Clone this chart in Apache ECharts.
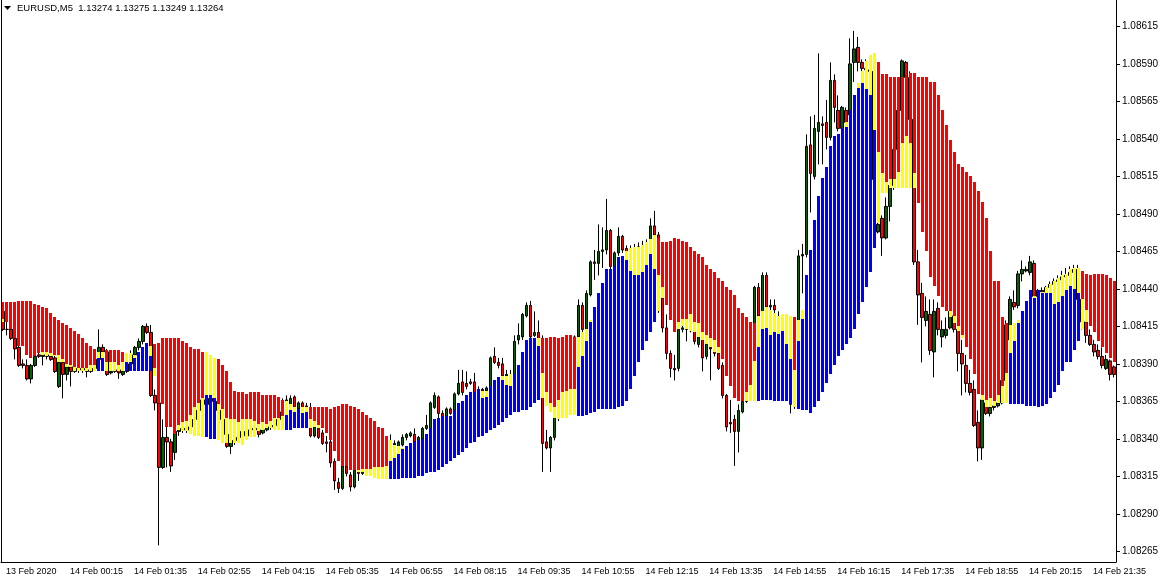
<!DOCTYPE html>
<html><head><meta charset="utf-8">
<script src="https://cdn.jsdelivr.net/npm/echarts@6/dist/echarts.min.js"></script>
<style>html,body{margin:0;padding:0;background:#fff}#c{width:1163px;height:583px}</style>
</head><body><div id="c"></div><script>
const titleText = 'EURUSD,M5  1.13274 1.13275 1.13249 1.13264';
const xLabels = ['13 Feb 2020','14 Feb 00:15','14 Feb 01:35','14 Feb 02:55','14 Feb 04:15','14 Feb 05:35','14 Feb 06:55','14 Feb 08:15','14 Feb 09:35','14 Feb 10:55','14 Feb 12:15','14 Feb 13:35','14 Feb 14:55','14 Feb 16:15','14 Feb 17:35','14 Feb 18:55','14 Feb 20:15','14 Feb 21:35'];
const yTicks = [1.08265,1.0829,1.08315,1.0834,1.08365,1.0839,1.08415,1.0844,1.08465,1.0849,1.08515,1.0854,1.08565,1.0859,1.08615];
// indicator colour per bar: R = red (down), B = blue (up)
const histColor = ('RRRRRRRRRR'+'RRRRRRRRRR'+'RRRRBBRRRR'+'RBBBBBBBRR'+'RRRRRRRRRR'+'RBBBRRRRRR'+'RRRRRRRRRR'+'RBBBBBBRRR'+'RRRRRRRRRR'+'RRRRRRRBBB'+
 'BBBBBBBBBB'+'BBBBBBBBBB'+'BBBBBBBBBB'+'BBBBBRRRRR'+'RRRRBBBBBB'+'BBBBBBBBBB'+'BBBBRRRRRR'+'RRRRRRRRRR'+'RRRRRRRRRB'+'BBBBBBBBRB'+
 'BBBBBBBBBB'+'BBBBBBBBBR'+'RRRRRRRRRR'+'RRRRRRRRRR'+'RRRRRRRRRR'+'RRBBBBBBBB'+'BBBBBBBBBB'+'RRRRRRRRR').split('');
const histTop = [1.08431,1.08431,1.08431,1.08431,1.08432,1.08432,1.08432,1.08432,1.08430,1.08429,
1.08428,1.08427,1.08424,1.08421,1.08419,1.08417,1.08416,1.08414,1.08412,1.08410,
1.08407,1.08404,1.08402,1.08400,1.08398,1.08398,1.08399,1.08399,1.08399,1.08399,
1.08398,1.08397,1.08397,1.08396,1.08398,1.08401,1.08404,1.08402,1.08403,1.08404,
1.08407,1.08407,1.08407,1.08407,1.08407,1.08405,1.08404,1.08401,1.08400,1.08400,
1.08398,1.08398,1.08396,1.08394,1.08393,1.08389,1.08385,1.08378,1.08372,1.08371,
1.08371,1.08370,1.08371,1.08371,1.08371,1.08369,1.08369,1.08369,1.08369,1.08368,
1.08366,1.08365,1.08363,1.08361,1.08360,1.08361,1.08361,1.08361,1.08361,1.08361,
1.08361,1.08361,1.08360,1.08361,1.08362,1.08363,1.08363,1.08362,1.08361,1.08360,
1.08358,1.08356,1.08354,1.08352,1.08348,1.08347,1.08342,1.08339,1.08336,1.08335,
1.08334,1.08335,1.08337,1.08338,1.08339,1.08340,1.08343,1.08347,1.08353,1.08354,
1.08355,1.08355,1.08355,1.08359,1.08364,1.08365,1.08369,1.08371,1.08371,1.08373,
1.08372,1.08372,1.08375,1.08379,1.08381,1.08382,1.08382,1.08383,1.08383,1.08389,
1.08398,1.08406,1.08407,1.08407,1.08407,1.08407,1.08407,1.08408,1.08408,1.08407,
1.08408,1.08409,1.08409,1.08408,1.08408,1.08411,1.08413,1.08419,1.08428,1.08437,
1.08444,1.08453,1.08453,1.08455,1.08461,1.08462,1.08465,1.08467,1.08468,1.08468,
1.08469,1.08471,1.08473,1.08476,1.08474,1.08471,1.08471,1.08472,1.08474,1.08473,
1.08472,1.08471,1.08468,1.08465,1.08463,1.08461,1.08456,1.08453,1.08451,1.08447,
1.08445,1.08441,1.08439,1.08436,1.08427,1.08424,1.08421,1.08418,1.08417,1.08422,
1.08425,1.08428,1.08426,1.08424,1.08422,1.08423,1.08423,1.08422,1.08421,1.08419,
1.08426,1.08449,1.08466,1.08486,1.08502,1.08514,1.08521,1.08535,1.08542,1.08543,
1.08547,1.08551,1.08559,1.08569,1.08577,1.08585,1.08592,1.08596,1.08597,1.08591,
1.08583,1.08583,1.08581,1.08581,1.08581,1.08581,1.08581,1.08584,1.08584,1.08581,
1.08581,1.08581,1.08578,1.08578,1.08569,1.08559,1.08549,1.08539,1.08531,1.08523,
1.08521,1.08518,1.08515,1.08511,1.08505,1.08498,1.08487,1.08465,1.08445,1.08445,
1.08421,1.08417,1.08416,1.08417,1.08419,1.08425,1.08432,1.08439,1.08435,1.08439,
1.08438,1.08441,1.08443,1.08445,1.08447,1.08449,1.08450,1.08453,1.08454,1.08454,
1.08452,1.08450,1.08449,1.08450,1.08450,1.08450,1.08449,1.08447,1.08445];
// boundary between the coloured part and the yellow part
const histMid = [1.08420,1.08418,1.08413,1.08407,1.08402,1.08402,1.08396,1.08394,1.08395,1.08397,
1.08398,1.08398,1.08397,1.08396,1.08396,1.08393,1.08390,1.08389,1.08388,1.08387,
1.08387,1.08387,1.08389,1.08389,1.08394,1.08394,1.08391,1.08391,1.08391,1.08389,
1.08391,1.08391,1.08391,1.08394,1.08398,1.08401,1.08404,1.08395,1.08387,1.08364,
1.08363,1.08348,1.08348,1.08343,1.08349,1.08351,1.08352,1.08356,1.08361,1.08364,
1.08367,1.08369,1.08369,1.08367,1.08363,1.08360,1.08354,1.08353,1.08353,1.08351,
1.08353,1.08353,1.08353,1.08352,1.08350,1.08351,1.08350,1.08352,1.08354,1.08354,
1.08355,1.08356,1.08359,1.08358,1.08360,1.08357,1.08358,1.08353,1.08352,1.08349,
1.08347,1.08344,1.08339,1.08332,1.08325,1.08322,1.08322,1.08319,1.08319,1.08319,
1.08320,1.08320,1.08320,1.08321,1.08321,1.08321,1.08322,1.08325,1.08327,1.08330,
1.08333,1.08335,1.08337,1.08338,1.08339,1.08340,1.08343,1.08347,1.08353,1.08354,
1.08355,1.08355,1.08355,1.08359,1.08364,1.08365,1.08369,1.08371,1.08371,1.08373,
1.08367,1.08368,1.08375,1.08379,1.08381,1.08379,1.08376,1.08375,1.08383,1.08389,
1.08398,1.08406,1.08407,1.08407,1.08402,1.08384,1.08371,1.08364,1.08361,1.08366,
1.08371,1.08372,1.08373,1.08373,1.08388,1.08395,1.08405,1.08418,1.08428,1.08437,
1.08444,1.08453,1.08453,1.08455,1.08461,1.08462,1.08459,1.08452,1.08449,1.08449,
1.08451,1.08456,1.08463,1.08453,1.08449,1.08441,1.08429,1.08419,1.08411,1.08418,
1.08420,1.08420,1.08423,1.08418,1.08417,1.08411,1.08409,1.08407,1.08406,1.08401,
1.08393,1.08382,1.08375,1.08367,1.08365,1.08365,1.08371,1.08376,1.08392,1.08401,
1.08413,1.08414,1.08409,1.08411,1.08410,1.08412,1.08403,1.08393,1.08386,1.08405,
1.08420,1.08449,1.08466,1.08486,1.08502,1.08514,1.08521,1.08535,1.08542,1.08543,
1.08547,1.08548,1.08559,1.08569,1.08574,1.08577,1.08573,1.08569,1.08546,1.08531,
1.08517,1.08511,1.08513,1.08513,1.08518,1.08537,1.08542,1.08537,1.08517,1.08497,
1.08478,1.08465,1.08448,1.08442,1.08435,1.08428,1.08425,1.08425,1.08422,1.08415,
1.08409,1.08401,1.08393,1.08383,1.08370,1.08369,1.08366,1.08367,1.08365,1.08369,
1.08375,1.08384,1.08397,1.08405,1.08417,1.08425,1.08432,1.08439,1.08434,1.08439,
1.08437,1.08437,1.08437,1.08430,1.08431,1.08435,1.08439,1.08442,1.08440,1.08437,
1.08433,1.08426,1.08415,1.08411,1.08405,1.08401,1.08397,1.08394,1.08391];
const histBot = [1.08418,1.08418,1.08413,1.08407,1.08402,1.08402,1.08396,1.08394,1.08395,1.08397,
1.08396,1.08395,1.08395,1.08395,1.08391,1.08391,1.08388,1.08388,1.08385,1.08385,
1.08385,1.08385,1.08385,1.08385,1.08385,1.08385,1.08385,1.08385,1.08385,1.08385,
1.08385,1.08385,1.08385,1.08385,1.08385,1.08385,1.08385,1.08385,1.08382,1.08364,
1.08363,1.08348,1.08348,1.08343,1.08346,1.08345,1.08345,1.08343,1.08342,1.08342,
1.08341,1.08341,1.08340,1.08340,1.08339,1.08337,1.08337,1.08337,1.08337,1.08337,
1.08336,1.08339,1.08341,1.08341,1.08345,1.08346,1.08347,1.08347,1.08346,1.08346,
1.08346,1.08346,1.08346,1.08347,1.08347,1.08347,1.08347,1.08347,1.08348,1.08347,
1.08347,1.08344,1.08339,1.08332,1.08325,1.08322,1.08322,1.08319,1.08319,1.08318,
1.08318,1.08315,1.08315,1.08314,1.08313,1.08313,1.08313,1.08313,1.08313,1.08313,
1.08314,1.08314,1.08314,1.08314,1.08315,1.08315,1.08317,1.08318,1.08318,1.08319,
1.08321,1.08323,1.08325,1.08327,1.08329,1.08331,1.08334,1.08337,1.08338,1.08341,
1.08342,1.08344,1.08346,1.08347,1.08349,1.08351,1.08354,1.08356,1.08358,1.08358,
1.08359,1.08359,1.08361,1.08364,1.08366,1.08367,1.08362,1.08358,1.08354,1.08353,
1.08354,1.08354,1.08356,1.08356,1.08355,1.08355,1.08356,1.08357,1.08358,1.08360,
1.08360,1.08360,1.08360,1.08360,1.08361,1.08362,1.08365,1.08373,1.08382,1.08391,
1.08399,1.08405,1.08411,1.08418,1.08425,1.08434,1.08429,1.08419,1.08411,1.08413,
1.08415,1.08413,1.08412,1.08411,1.08408,1.08406,1.08403,1.08401,1.08398,1.08397,
1.08393,1.08382,1.08375,1.08367,1.08365,1.08365,1.08365,1.08365,1.08365,1.08365,
1.08366,1.08366,1.08366,1.08365,1.08365,1.08365,1.08365,1.08363,1.08361,1.08360,
1.08359,1.08359,1.08357,1.08361,1.08365,1.08371,1.08377,1.08383,1.08389,1.08395,
1.08399,1.08403,1.08407,1.08413,1.08423,1.08431,1.08441,1.08451,1.08467,1.08484,
1.08504,1.08504,1.08507,1.08507,1.08507,1.08507,1.08507,1.08507,1.08507,1.08497,
1.08478,1.08465,1.08448,1.08442,1.08435,1.08428,1.08425,1.08421,1.08417,1.08412,
1.08407,1.08401,1.08393,1.08383,1.08370,1.08366,1.08361,1.08361,1.08362,1.08364,
1.08364,1.08364,1.08363,1.08363,1.08363,1.08363,1.08362,1.08362,1.08362,1.08361,
1.08362,1.08363,1.08367,1.08371,1.08376,1.08385,1.08391,1.08391,1.08399,1.08405,
1.08413,1.08418,1.08415,1.08411,1.08405,1.08401,1.08397,1.08394,1.08391];
const open = [1.08425,1.08413,1.08413,1.08407,1.08401,1.08390,1.08389,1.08380,1.08389,1.08396,
1.08395,1.08396,1.08395,1.08394,1.08375,1.08391,1.08383,1.08388,1.08385,1.08387,
1.08387,1.08386,1.08385,1.08387,1.08393,1.08401,1.08398,1.08384,1.08385,1.08386,
1.08383,1.08385,1.08390,1.08396,1.08401,1.08405,1.08415,1.08411,1.08369,1.08364,
1.08321,1.08341,1.08338,1.08331,1.08345,1.08347,1.08346,1.08348,1.08353,1.08359,
1.08366,1.08363,1.08367,1.08365,1.08359,1.08353,1.08343,1.08335,1.08339,1.08341,
1.08345,1.08342,1.08346,1.08347,1.08346,1.08344,1.08346,1.08348,1.08349,1.08353,
1.08358,1.08363,1.08363,1.08368,1.08360,1.08364,1.08362,1.08361,1.08342,1.08347,
1.08344,1.08338,1.08338,1.08325,1.08311,1.08307,1.08322,1.08316,1.08308,1.08319,
1.08317,1.08319,1.08321,1.08323,1.08325,1.08327,1.08329,1.08333,1.08336,1.08335,
1.08336,1.08341,1.08342,1.08343,1.08339,1.08340,1.08347,1.08347,1.08361,1.08368,
1.08357,1.08355,1.08360,1.08359,1.08370,1.08378,1.08377,1.08378,1.08378,1.08371,
1.08373,1.08372,1.08375,1.08395,1.08391,1.08390,1.08382,1.08383,1.08382,1.08406,
1.08408,1.08422,1.08429,1.08409,1.08411,1.08407,1.08338,1.08334,1.08341,1.08354,
1.08359,1.08363,1.08366,1.08369,1.08408,1.08429,1.08413,1.08436,1.08458,1.08457,
1.08465,1.08466,1.08479,1.08455,1.08464,1.08475,1.08467,1.08465,1.08466,1.08467,
1.08468,1.08469,1.08471,1.08482,1.08476,1.08434,1.08414,1.08397,1.08387,1.08387,
1.08413,1.08414,1.08413,1.08412,1.08403,1.08408,1.08395,1.08401,1.08400,1.08397,
1.08389,1.08369,1.08351,1.08353,1.08345,1.08358,1.08365,1.08373,1.08393,1.08441,
1.08425,1.08449,1.08428,1.08429,1.08421,1.08419,1.08413,1.08379,1.08363,1.08413,
1.08462,1.08463,1.08536,1.08515,1.08545,1.08550,1.08551,1.08541,1.08579,1.08559,
1.08547,1.08559,1.08556,1.08591,1.08601,1.08591,1.08587,1.08586,1.08585,1.08478,
1.08487,1.08474,1.08495,1.08509,1.08533,1.08559,1.08591,1.08581,1.08553,1.08458,
1.08437,1.08419,1.08423,1.08398,1.08427,1.08408,1.08409,1.08414,1.08422,1.08413,
1.08397,1.08389,1.08377,1.08373,1.08351,1.08334,1.08364,1.08357,1.08361,1.08362,
1.08364,1.08379,1.08406,1.08431,1.08429,1.08450,1.08452,1.08451,1.08457,1.08435,
1.08439,1.08438,1.08441,1.08443,1.08445,1.08446,1.08448,1.08449,1.08451,1.08453,
1.08433,1.08418,1.08409,1.08403,1.08399,1.08395,1.08387,1.08392,1.08388];
const close = [1.08413,1.08413,1.08407,1.08400,1.08389,1.08389,1.08380,1.08389,1.08395,1.08395,
1.08396,1.08395,1.08393,1.08385,1.08391,1.08383,1.08388,1.08385,1.08387,1.08386,
1.08386,1.08385,1.08387,1.08393,1.08401,1.08398,1.08383,1.08385,1.08386,1.08384,
1.08385,1.08390,1.08396,1.08401,1.08405,1.08415,1.08411,1.08369,1.08364,1.08321,
1.08341,1.08338,1.08322,1.08345,1.08347,1.08346,1.08348,1.08353,1.08359,1.08366,
1.08363,1.08367,1.08365,1.08359,1.08353,1.08343,1.08335,1.08339,1.08341,1.08345,
1.08342,1.08346,1.08347,1.08346,1.08343,1.08346,1.08348,1.08349,1.08353,1.08358,
1.08363,1.08366,1.08367,1.08361,1.08364,1.08361,1.08361,1.08342,1.08348,1.08341,
1.08337,1.08337,1.08324,1.08312,1.08307,1.08322,1.08317,1.08308,1.08319,1.08317,
1.08319,1.08321,1.08323,1.08325,1.08327,1.08329,1.08333,1.08335,1.08337,1.08338,
1.08341,1.08343,1.08344,1.08338,1.08341,1.08347,1.08349,1.08364,1.08369,1.08357,
1.08352,1.08360,1.08357,1.08370,1.08377,1.08371,1.08375,1.08377,1.08371,1.08373,
1.08372,1.08374,1.08394,1.08391,1.08389,1.08382,1.08383,1.08382,1.08405,1.08409,
1.08423,1.08429,1.08408,1.08411,1.08407,1.08337,1.08334,1.08341,1.08354,1.08359,
1.08363,1.08366,1.08369,1.08408,1.08429,1.08413,1.08437,1.08458,1.08457,1.08465,
1.08466,1.08479,1.08455,1.08464,1.08475,1.08466,1.08465,1.08466,1.08467,1.08468,
1.08469,1.08471,1.08482,1.08476,1.08434,1.08414,1.08397,1.08387,1.08386,1.08413,
1.08414,1.08413,1.08412,1.08405,1.08408,1.08394,1.08403,1.08400,1.08397,1.08387,
1.08369,1.08348,1.08350,1.08345,1.08359,1.08365,1.08373,1.08393,1.08441,1.08422,
1.08449,1.08428,1.08429,1.08426,1.08419,1.08413,1.08393,1.08363,1.08413,1.08462,
1.08463,1.08535,1.08517,1.08547,1.08551,1.08549,1.08541,1.08579,1.08561,1.08547,
1.08561,1.08551,1.08590,1.08600,1.08591,1.08587,1.08586,1.08585,1.08513,1.08483,
1.08474,1.08495,1.08509,1.08533,1.08559,1.08592,1.08581,1.08553,1.08458,1.08436,
1.08421,1.08425,1.08399,1.08425,1.08413,1.08413,1.08413,1.08425,1.08413,1.08397,
1.08390,1.08377,1.08371,1.08349,1.08334,1.08366,1.08357,1.08361,1.08362,1.08364,
1.08379,1.08416,1.08433,1.08428,1.08450,1.08453,1.08453,1.08458,1.08435,1.08439,
1.08438,1.08441,1.08443,1.08445,1.08446,1.08448,1.08449,1.08451,1.08453,1.08433,
1.08418,1.08409,1.08403,1.08398,1.08395,1.08389,1.08393,1.08383,1.08383];
const high = [1.08429,1.08418,1.08414,1.08409,1.08402,1.08393,1.08393,1.08390,1.08398,1.08399,
1.08399,1.08398,1.08397,1.08396,1.08393,1.08393,1.08389,1.08389,1.08389,1.08389,
1.08389,1.08387,1.08389,1.08395,1.08413,1.08403,1.08400,1.08389,1.08389,1.08389,
1.08387,1.08393,1.08399,1.08402,1.08407,1.08416,1.08417,1.08416,1.08373,1.08366,
1.08353,1.08348,1.08340,1.08347,1.08349,1.08350,1.08353,1.08356,1.08363,1.08369,
1.08371,1.08373,1.08371,1.08367,1.08363,1.08356,1.08346,1.08342,1.08345,1.08347,
1.08347,1.08349,1.08351,1.08350,1.08349,1.08347,1.08350,1.08353,1.08356,1.08363,
1.08367,1.08369,1.08369,1.08369,1.08365,1.08365,1.08364,1.08364,1.08349,1.08350,
1.08346,1.08342,1.08340,1.08327,1.08314,1.08325,1.08325,1.08318,1.08321,1.08321,
1.08323,1.08324,1.08326,1.08329,1.08331,1.08333,1.08335,1.08343,1.08339,1.08339,
1.08343,1.08344,1.08345,1.08347,1.08342,1.08348,1.08356,1.08365,1.08371,1.08369,
1.08359,1.08361,1.08361,1.08371,1.08386,1.08386,1.08385,1.08380,1.08384,1.08375,
1.08374,1.08375,1.08395,1.08401,1.08394,1.08394,1.08386,1.08386,1.08409,1.08417,
1.08424,1.08431,1.08432,1.08425,1.08419,1.08409,1.08346,1.08342,1.08356,1.08363,
1.08366,1.08369,1.08373,1.08409,1.08433,1.08431,1.08439,1.08459,1.08466,1.08483,
1.08481,1.08500,1.08480,1.08465,1.08481,1.08476,1.08469,1.08469,1.08470,1.08471,
1.08472,1.08473,1.08487,1.08492,1.08478,1.08436,1.08423,1.08399,1.08396,1.08416,
1.08418,1.08416,1.08416,1.08414,1.08411,1.08409,1.08404,1.08403,1.08403,1.08399,
1.08391,1.08370,1.08366,1.08356,1.08363,1.08367,1.08376,1.08396,1.08442,1.08444,
1.08451,1.08451,1.08433,1.08433,1.08425,1.08422,1.08416,1.08386,1.08419,1.08466,
1.08470,1.08543,1.08555,1.08556,1.08597,1.08555,1.08566,1.08591,1.08583,1.08569,
1.08562,1.08561,1.08607,1.08612,1.08608,1.08593,1.08593,1.08593,1.08593,1.08499,
1.08489,1.08501,1.08513,1.08539,1.08566,1.08593,1.08592,1.08585,1.08559,1.08466,
1.08444,1.08435,1.08433,1.08433,1.08431,1.08419,1.08421,1.08427,1.08425,1.08415,
1.08406,1.08396,1.08386,1.08379,1.08359,1.08367,1.08366,1.08363,1.08364,1.08367,
1.08383,1.08419,1.08435,1.08439,1.08452,1.08459,1.08455,1.08462,1.08459,1.08440,
1.08441,1.08442,1.08445,1.08447,1.08449,1.08452,1.08454,1.08455,1.08456,1.08456,
1.08436,1.08421,1.08413,1.08406,1.08403,1.08401,1.08396,1.08393,1.08389];
const low = [1.08412,1.08409,1.08406,1.08393,1.08388,1.08387,1.08379,1.08377,1.08388,1.08394,
1.08389,1.08393,1.08392,1.08384,1.08374,1.08367,1.08379,1.08375,1.08384,1.08384,
1.08384,1.08381,1.08384,1.08386,1.08391,1.08395,1.08382,1.08383,1.08384,1.08380,
1.08382,1.08384,1.08389,1.08395,1.08399,1.08403,1.08410,1.08368,1.08359,1.08269,
1.08320,1.08321,1.08318,1.08326,1.08342,1.08344,1.08344,1.08346,1.08349,1.08356,
1.08359,1.08359,1.08361,1.08354,1.08346,1.08339,1.08334,1.08330,1.08336,1.08339,
1.08337,1.08341,1.08343,1.08342,1.08341,1.08343,1.08345,1.08346,1.08347,1.08351,
1.08357,1.08361,1.08361,1.08360,1.08359,1.08359,1.08360,1.08341,1.08341,1.08340,
1.08336,1.08331,1.08321,1.08306,1.08304,1.08306,1.08315,1.08305,1.08307,1.08312,
1.08316,1.08318,1.08319,1.08320,1.08323,1.08325,1.08327,1.08331,1.08335,1.08334,
1.08335,1.08339,1.08341,1.08337,1.08337,1.08339,1.08346,1.08346,1.08360,1.08351,
1.08351,1.08354,1.08356,1.08357,1.08369,1.08369,1.08373,1.08376,1.08369,1.08370,
1.08369,1.08371,1.08373,1.08390,1.08387,1.08381,1.08379,1.08380,1.08381,1.08403,
1.08406,1.08421,1.08407,1.08408,1.08405,1.08318,1.08333,1.08318,1.08339,1.08352,
1.08356,1.08359,1.08363,1.08367,1.08406,1.08410,1.08412,1.08435,1.08446,1.08449,
1.08454,1.08463,1.08453,1.08454,1.08462,1.08464,1.08464,1.08461,1.08463,1.08465,
1.08466,1.08467,1.08469,1.08473,1.08424,1.08411,1.08393,1.08381,1.08379,1.08385,
1.08411,1.08405,1.08411,1.08403,1.08401,1.08385,1.08393,1.08379,1.08395,1.08386,
1.08367,1.08345,1.08344,1.08322,1.08331,1.08357,1.08364,1.08371,1.08391,1.08419,
1.08423,1.08426,1.08425,1.08423,1.08418,1.08406,1.08379,1.08357,1.08360,1.08411,
1.08437,1.08461,1.08491,1.08513,1.08523,1.08523,1.08533,1.08539,1.08551,1.08545,
1.08546,1.08549,1.08553,1.08578,1.08585,1.08584,1.08583,1.08573,1.08499,1.08477,
1.08462,1.08473,1.08485,1.08506,1.08529,1.08556,1.08566,1.08533,1.08456,1.08416,
1.08391,1.08415,1.08396,1.08381,1.08409,1.08401,1.08407,1.08413,1.08411,1.08385,
1.08369,1.08371,1.08369,1.08348,1.08325,1.08326,1.08356,1.08355,1.08359,1.08361,
1.08363,1.08376,1.08403,1.08426,1.08427,1.08445,1.08451,1.08449,1.08434,1.08434,
1.08437,1.08437,1.08438,1.08439,1.08441,1.08443,1.08445,1.08446,1.08447,1.08429,
1.08413,1.08404,1.08402,1.08395,1.08393,1.08387,1.08386,1.08379,1.08381];

const RED = '#ff0000', BLUE = '#0000ff', YELLOW = '#ffff00';
const cats = histTop.map((_, i) => String(i));
const colData = histTop.map((t, i) => [i, t, histMid[i], histBot[i], histColor[i] === 'R' ? 0 : 1]);
const candleData = open.map((o, i) => [o, close[i], low[i], high[i]]);
const every16 = (idx) => idx % 16 === 0;

function renderCol(params, api) {
  const i = api.value(0), t = api.value(1), m = api.value(2), b = api.value(3), c = api.value(4);
  const pt = api.coord([i, t]);
  const x = Math.round(pt[0] - 1.5);
  const yT = Math.round(pt[1]);
  const yM = Math.round(api.coord([i, m])[1]);
  const yB = Math.round(api.coord([i, b])[1]);
  const upper = c === 0 ? RED : YELLOW;
  const lower = c === 0 ? YELLOW : BLUE;
  const children = [];
  if (yM > yT) children.push({type: 'rect', shape: {x: x, y: yT, width: 3, height: yM - yT}, style: {fill: upper}});
  if (yB > yM) children.push({type: 'rect', shape: {x: x, y: yM, width: 3, height: yB - yM}, style: {fill: lower}});
  return {type: 'group', children: children};
}

const chart = echarts.init(document.getElementById('c'), null, {renderer: 'canvas'});
chart.setOption({
  animation: false,
  backgroundColor: '#ffffff',
  textStyle: {fontFamily: 'Liberation Sans'},
  grid: {left: 1, right: 47, top: 0, bottom: 21},
  xAxis: {
    type: 'category', data: cats, boundaryGap: true,
    axisLine: {lineStyle: {color: '#000', width: 1}},
    axisTick: {alignWithLabel: true, interval: every16, length: 4, lineStyle: {color: '#000'}},
    axisLabel: {interval: every16, formatter: (v, idx) => (idx % 16 === 0 ? xLabels[idx / 16] : ''),
      align: 'left', color: '#000', fontSize: 9, fontFamily: 'Liberation Sans', margin: 5, padding: [0, 0, 0, 3]},
    splitLine: {show: false}
  },
  yAxis: {
    type: 'value', position: 'right', min: 1.0825793, max: 1.086326, scale: true,
    axisLine: {show: true, lineStyle: {color: '#000', width: 1}},
    axisTick: {show: true, length: 4, customValues: yTicks, lineStyle: {color: '#000'}},
    axisLabel: {customValues: yTicks, formatter: v => v.toFixed(5), color: '#000', fontSize: 10, fontFamily: 'Liberation Sans', margin: 6},
    splitLine: {show: false}
  },
  graphic: [
    {type: 'line', shape: {x1: 1.5, y1: 0, x2: 1.5, y2: 562}, style: {stroke: '#000', lineWidth: 1}, z: 100},
    {type: 'polygon', shape: {points: [[4, 6], [11, 6], [7.5, 10]]}, style: {fill: '#000'}, z: 100},
    {type: 'text', left: 17, top: 3, style: {text: titleText, fill: '#000', font: '9.5px "Liberation Sans"'}, z: 100}
  ],
  series: [
    {type: 'candlestick', data: candleData, barWidth: 3, z: 2,
      itemStyle: {color: '#006400', color0: '#ff0000', borderColor: '#000', borderColor0: '#000', borderWidth: 1}},
    {type: 'custom', data: colData, renderItem: renderCol, z: 5, clip: true,
      encode: {x: 0, y: [1, 2, 3]}}
  ]
});
</script></body></html>
